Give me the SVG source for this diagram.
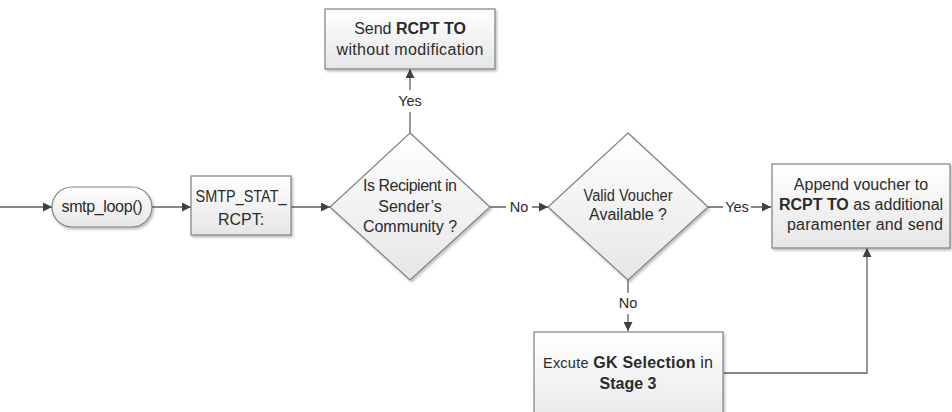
<svg xmlns="http://www.w3.org/2000/svg" width="952" height="412" viewBox="0 0 952 412">
<style>
  .shape { fill: url(#g); stroke: #808080; stroke-width: 1.2; filter: url(#sh); }
  .t { font-family: "Liberation Sans", Arial, sans-serif; font-size: 16px; fill: #2b2b2b; text-anchor: middle; }
  .b { font-weight: bold; }
  .lbl { font-family: "Liberation Sans", Arial, sans-serif; font-size: 14.5px; fill: #2b2b2b; text-anchor: middle; }
  .c { fill: none; stroke: #606060; stroke-width: 1.3; }
</style>
<defs>
  <linearGradient id="g" x1="0" y1="0" x2="0" y2="1">
    <stop offset="0" stop-color="#ffffff"/>
    <stop offset="1" stop-color="#e6e6e6"/>
  </linearGradient>
  <filter id="sh" x="-10%" y="-10%" width="125%" height="130%">
    <feDropShadow dx="1.5" dy="2" stdDeviation="1.2" flood-color="#000" flood-opacity="0.25"/>
  </filter>
  <marker id="a" viewBox="0 0 10 10" refX="10" refY="5" markerWidth="9" markerHeight="9" markerUnits="userSpaceOnUse" orient="auto">
    <path d="M0,0 L10,5 L0,10 z" fill="#404040"/>
  </marker>
</defs>

<g id="connectors">
  <path class="c" d="M0,207 H52" marker-end="url(#a)"/>
  <path class="c" d="M152,207 H191" marker-end="url(#a)"/>
  <path class="c" d="M291,207 H330" marker-end="url(#a)"/>
  <path class="c" d="M410,133 V112 M410,90 V69" marker-end="url(#a)"/>
  <path class="c" d="M490,207 H506 M532,207 H548" marker-end="url(#a)"/>
  <path class="c" d="M708,207 H723 M751,207 H771" marker-end="url(#a)"/>
  <path class="c" d="M628,280 V293 M628,314 V331" marker-end="url(#a)"/>
  <path class="c" d="M724,373 H867 V248" marker-end="url(#a)"/>
  <text class="lbl" x="410" y="106">Yes</text>
  <text class="lbl" x="519" y="212">No</text>
  <text class="lbl" x="737" y="212">Yes</text>
  <text class="lbl" x="628" y="308">No</text>
</g>

<g id="start">
  <rect class="shape" x="52" y="187" width="100" height="40" rx="20" ry="20"/>
  <text class="t" x="102" y="212" textLength="81">smtp_loop()</text>
</g>

<g id="smtp-stat-rcpt">
  <rect class="shape" x="191" y="176" width="100" height="59"/>
  <text class="t" x="241" y="202" textLength="91" lengthAdjust="spacingAndGlyphs">SMTP_STAT_</text>
  <text class="t" x="241" y="225">RCPT:</text>
</g>

<g id="send-unmodified">
  <rect class="shape" x="325" y="9" width="170" height="60"/>
  <text class="t" x="410" y="34">Send <tspan class="b">RCPT TO</tspan></text>
  <text class="t" x="410" y="55" textLength="147">without modification</text>
</g>

<g id="decision-community">
  <polygon class="shape" points="410,133 490,207 410,280 330,207"/>
  <text class="t" x="410" y="191" textLength="94">Is Recipient in</text>
  <text class="t" x="410" y="212">Sender’s</text>
  <text class="t" x="410" y="232">Community ?</text>
</g>

<g id="decision-voucher">
  <polygon class="shape" points="628,133 708,207 628,280 548,207"/>
  <text class="t" x="628" y="201" textLength="89" lengthAdjust="spacingAndGlyphs">Valid Voucher</text>
  <text class="t" x="628" y="220">Available ?</text>
</g>

<g id="append-voucher">
  <rect class="shape" x="772" y="164" width="178" height="84"/>
  <text class="t" x="861" y="190">Append voucher to</text>
  <text class="t" x="861" y="210"><tspan class="b">RCPT TO</tspan> as additional</text>
  <text class="t" x="865" y="230" textLength="156">paramenter and send</text>
</g>

<g id="gk-selection">
  <rect class="shape" x="534" y="332" width="189" height="100"/>
  <text class="t" x="628" y="368" textLength="170"><tspan style="font-size:14.5px">Excute</tspan> <tspan class="b">GK Selection</tspan> in</text>
  <text class="t b" x="628" y="389">Stage 3</text>
</g>
</svg>
